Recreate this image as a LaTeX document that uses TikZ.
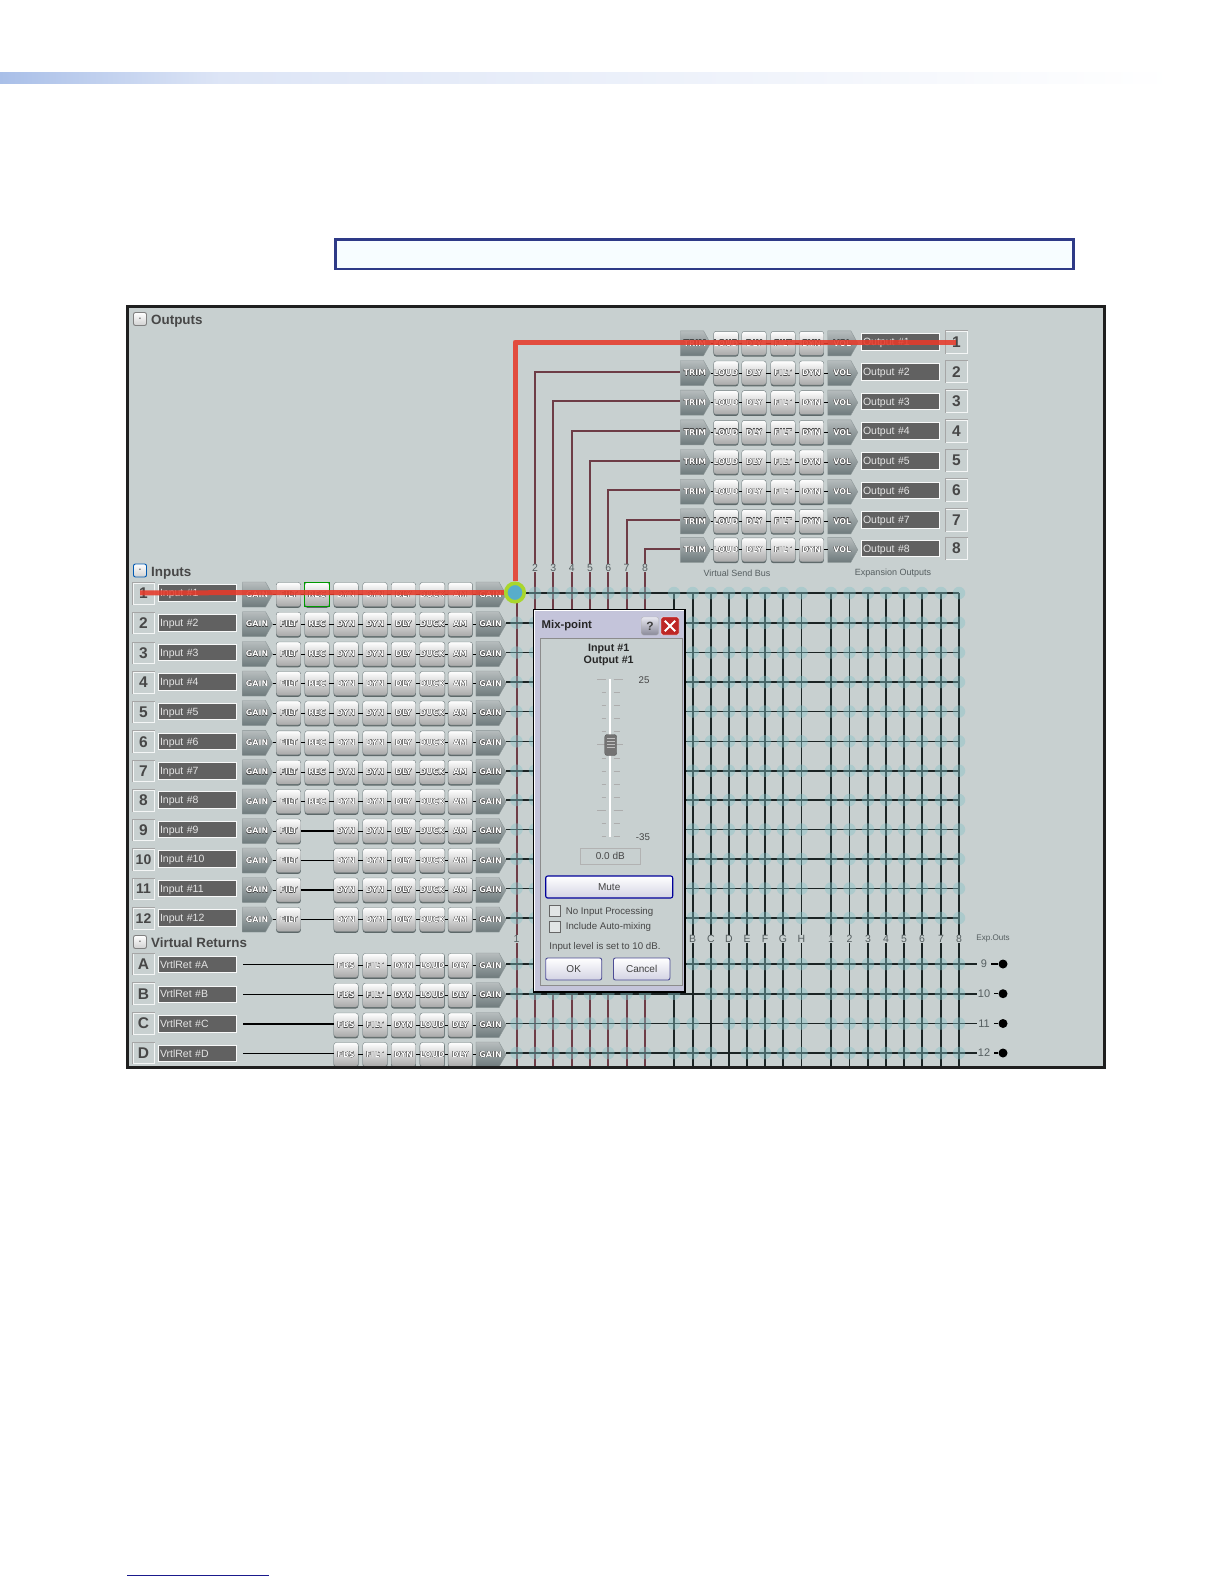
\documentclass[tikz,border=0pt]{standalone}
\usepackage{fontspec}
\usepackage{contour}
\usetikzlibrary{shapes.symbols,shadows}
\setmainfont{Liberation Sans}
\newfontfamily\chipfont{DejaVu Sans}
\contourlength{0.26pt}
\contournumber{8}
\definecolor{panelbg}{HTML}{C8D0D0}
\definecolor{gridline}{HTML}{1B2424}
\definecolor{busline}{HTML}{6E3C46}
\definecolor{redpath}{HTML}{E63A2A}
\definecolor{labelgray}{HTML}{555E60}
\definecolor{chipedge}{HTML}{6E7A7C}
\definecolor{lavender}{HTML}{C4C4DA}
\definecolor{bandblue}{HTML}{A9BFE8}
\definecolor{bandpale}{HTML}{DDE5F6}
\definecolor{boxblue}{HTML}{2E3A87}
\definecolor{mixblue}{HTML}{58ADCB}
\definecolor{mixlime}{HTML}{A9D62C}
\definecolor{xpointteal}{HTML}{86C2C8}
\definecolor{ruleblue}{HTML}{1A1A8C}
\newcommand{\chiplabel}[1]{\contour{black!72}{#1}}
\newcommand{\pentlabel}[1]{\makebox[23pt]{\hspace{6pt}\contour{black!72}{#1}}}
\newcommand{\numframe}[1]{\draw [edgedark] (#1.south west)--(#1.north west)--(#1.north east);}
\tikzset{
  chip/.style={rectangle, rounded corners=2.5pt, draw=chipedge, top color=white, middle color=white!84!black,
    bottom color=white!66!black, minimum width=24.5pt, minimum height=24pt, inner sep=0pt,
    font=\chipfont\fontsize{8}{9}\selectfont\bfseries, text=white,
    drop shadow={shadow xshift=0pt, shadow yshift=-1.3pt, opacity=1, fill=chipedge!85!black}},
  pent/.style={shape=signal, signal to=east, signal pointer angle=122, draw=chipedge!80,
    top color=white!50!chipedge, bottom color=chipedge, minimum width=30pt, minimum height=25pt, inner sep=0pt,
    font=\chipfont\fontsize{8}{9}\selectfont\bfseries, text=white},
  namebox/.style={rectangle, fill=black!62, draw=white!88!panelbg, line width=0.9pt, text width=74pt, minimum height=16.5pt,
    text height=7.5pt, text depth=0pt, inner xsep=2pt, inner ysep=0pt, align=left, text=white!90!black, font=\fontsize{10.5}{12}\selectfont},
  numbox/.style={rectangle, draw=white!80!panelbg, line width=1pt, minimum size=21pt, inner sep=0pt,
    text=black!72, font=\fontsize{15.5}{17}\selectfont\bfseries},
  edgedark/.style={line width=1pt, black!35},
  heading/.style={text=black!72, inner sep=0pt, font=\fontsize{13.4}{15}\selectfont\bfseries},
  foldbtn/.style={rectangle, rounded corners=2pt, draw=black!50, line width=0.9pt, top color=white, bottom color=black!18,
    minimum size=13pt, inner sep=0pt, text=black!70, font=\fontsize{7}{8}\selectfont\bfseries},
  collabel/.style={fill=panelbg, inner xsep=0.6pt, inner ysep=0.6pt, text=labelgray, font=\fontsize{10.5}{12}\selectfont},
  smalltxt/.style={inner sep=0pt, text=labelgray, font=\fontsize{9}{11}\selectfont},
  gridrun/.style={line width=1.6pt, gridline},
  busrun/.style={line width=2pt, busline},
  tie/.style={line width=1pt, black},
  xpoint/.style={circle, fill=xpointteal, fill opacity=0.42, minimum size=12.5pt, inner sep=0pt},
  redrun/.style={line width=5pt, redpath, opacity=0.88},
  dlgtxt/.style={inner sep=0pt, text=black!72, font=\fontsize{9.7}{11}\selectfont},
  dlgbtn/.style={rectangle, rounded corners=2pt, draw=black!60!blue!70, line width=0.9pt, top color=white, bottom color=lavender!75,
    minimum height=22pt, inner sep=0pt, text=black!75, font=\fontsize{10}{12}\selectfont},
  checkbx/.style={rectangle, draw=black!60, line width=0.8pt, fill=white!45!panelbg, minimum size=11pt, inner sep=0pt}
}
\begin{document}
\begin{tikzpicture}[x=1pt,y=-1pt]
    \useasboundingbox (0,0) rectangle (1224,1584);

    % 1. Page furniture
    \shade [left color=bandblue, right color=bandpale] (0,73) rectangle (220,84);
    \shade [left color=bandpale, right color=white] (220,73) rectangle (1175,84);
    \draw [line width = 2.6pt, boxblue, fill=white!97!cyan] (335.3,239.3) rectangle (1073.7,269);
    \draw [line width = 1pt, ruleblue] (127,1575)--(269,1575);

    \fill [panelbg] (127,306) rectangle (1104,1067);

    % 2. Grid lines ends and the two sets of columns
    \foreach \i/\y in {1/593,2/622.7,3/652.5,4/682,5/711.5,6/741.3,7/770.7,8/800,9/829.5,10/859,11/888.5,12/918} {
      \coordinate (inend\i) at (959,\y);
    }
    \foreach \i/\y in {A/964,B/993.7,C/1023.5,D/1053} {
      \coordinate (retend\i) at (977,\y);
    }
    \foreach \j/\x/\y in {1/516.5/593,2/535/371.7,3/553.3/401.3,4/571.7/431,5/590/460.7,6/608.3/490.4,7/626.5/520,8/645/548.5} {
      \coordinate (bustop\j) at (\x,\y);
      \coordinate (busend\j) at (\x,1067);
    }
    \foreach \j/\x in {2/535,3/553.3,4/571.7,5/590,6/608.3,7/626.5,8/645} {
      \coordinate (wire\j) at (680,0);
      \draw [busrun] (wire\j |- bustop\j)--(bustop\j)--(busend\j);
      \node (buslabel\j) [collabel] at (\x,568) {\j};
    }
    \draw [busrun] (bustop1)--(busend1);
    \node (buslabel1) [collabel] at (516.5,939) {1};
    \foreach \j/\x in {A/674,B/692.7,C/711,D/729,E/747,F/765,G/783,H/801.5,1/831,2/849.5,3/868,4/886,5/904,6/922,7/941,8/959} {
      \coordinate (exptop\j) at (\x,593);
      \coordinate (expend\j) at (\x,1067);
      \draw [gridrun] (exptop\j)--(expend\j);
    }
    \foreach \j/\x in {B/692.7,C/711,D/729,E/747,F/765,G/783,H/801.5,1/831,2/849.5,3/868,4/886,5/904,6/922,7/941,8/959} {
      \node (explabel\j) [collabel] at (\x,939) {\j};
    }

    % 3. Output rows
    \foreach \i/\y in {1/342,2/371.7,3/401.3,4/431,5/460.7,6/490.4,7/520,8/548.5} {
      \foreach \k/\x/\t/\s/\m in {1/692/TRIM/pent/\pentlabel,2/726/LOUD/chip/\chiplabel,3/754/DLY/chip/\chiplabel,4/783/FILT/chip/\chiplabel,5/811.5/DYN/chip/\chiplabel,6/839.3/VOL/pent/\pentlabel} {
        \node (out\i c\k) [\s] at (\x,\y+1.3) {\m{\t}};
      }
      \foreach \k [remember=\k as \p (initially 1)] in {2,...,6} {
        \draw [tie] (out\i c\p.east)--(out\i c\k.west);
      }
      \node (outname\i) [namebox] at (900,\y) {Output \#\i};
      \node (outnum\i) [numbox, minimum size=22pt] at (956.5,\y) {\i};
      \numframe{outnum\i}
    }
    \node (sendlabel) [smalltxt] at (737,573) {Virtual Send Bus};
    \node (explabel) [smalltxt] at (893,573) {Expansion Outputs};

    % 4. Input rows
    \foreach \i/\y in {1/593,2/622.7,3/652.5,4/682,5/711.5,6/741.3,7/770.7,8/800,9/829.5,10/859,11/888.5,12/918} {
      \node (innum\i) [numbox] at (143.5,\y+0.5) {\ifnum\i>9 \fontsize{14}{15}\selectfont\fi\i};
      \numframe{innum\i}
      \node (inname\i) [namebox] at (197,\y) {Input \#\i};
      \foreach \k/\x/\t/\s/\m in {1/254/GAIN/pent/\pentlabel,2/288.5/FILT/chip/\chiplabel,4/346/DYN/chip/\chiplabel,5/375/DYN/chip/\chiplabel,6/403.5/DLY/chip/\chiplabel,7/432.3/DUCK/chip/\chiplabel,8/460.3/AM/chip/\chiplabel,9/487.5/GAIN/pent/\pentlabel} {
        \node (in\i c\k) [\s] at (\x,\y+1.5) {\m{\t}};
      }
      \draw [tie] (in\i c1.east)--(in\i c2.west);
      \foreach \k [remember=\k as \p (initially 4)] in {5,...,9} {
        \draw [tie] (in\i c\p.east)--(in\i c\k.west);
      }
      \draw [gridrun] (in\i c9.east |- inend\i)--(inend\i);
    }
    \foreach \i/\y in {1/593,2/622.7,3/652.5,4/682,5/711.5,6/741.3,7/770.7,8/800} {
      \node (in\i c3) [chip] at (317,\y+1.5) {\chiplabel{REC}};
      \draw [tie] (in\i c2.east)--(in\i c3.west);
      \draw [tie] (in\i c3.east)--(in\i c4.west);
    }
    \foreach \i in {9,10,11,12} {
      \draw [line width=1.4pt, black] (in\i c2.east)--(in\i c4.west);
    }
    \draw [line width = 1pt, green!60!black] (in1c3.south west) rectangle (in1c3.north east);

    % 5. Virtual return rows
    \foreach \i/\y/\n in {A/964/9,B/993.7/10,C/1023.5/11,D/1053/12} {
      \node (retnum\i) [numbox] at (143.5,\y) {\i};
      \numframe{retnum\i}
      \node (retname\i) [namebox] at (197,\y+0.5) {VrtlRet \#\i};
      \foreach \k/\x/\t/\s/\m in {1/346/FBS/chip/\chiplabel,2/375/FILT/chip/\chiplabel,3/403.5/DYN/chip/\chiplabel,4/432.3/LOUD/chip/\chiplabel,5/460.3/DLY/chip/\chiplabel,6/487.5/GAIN/pent/\pentlabel} {
        \node (ret\i c\k) [\s] at (\x,\y+1.5) {\m{\t}};
      }
      \foreach \k [remember=\k as \p (initially 1)] in {2,...,6} {
        \draw [tie] (ret\i c\p.east)--(ret\i c\k.west);
      }
      \draw [line width=1.4pt, black] ([xshift=7pt]retname\i.east)--(ret\i c1.west |- retname\i);
      \draw [gridrun] (ret\i c6.east |- retend\i)--(retend\i);
      \node (expnum\i) [inner sep=0pt, text=labelgray, font=\fontsize{11}{12}\selectfont] at (984,\y) {\n};
      \node (expdot\i) [circle, fill=black, minimum size=9pt, inner sep=0pt] at (1003,\y) {};
      \draw [line width=1.4pt, black] ([xshift=4pt]expnum\i.east)--(expdot\i);
    }
    \node (expouts) [smalltxt, font=\fontsize{8.1}{10}\selectfont] at (993,939) {Exp.Outs};

    % 6. Crosspoints over the grid
    \foreach \y in {593,622.7,652.5,682,711.5,741.3,770.7,800,829.5,859,888.5,918,964,993.7,1023.5,1053} {
      \foreach \x in {516.5,535,553.3,571.7,590,608.3,626.5,645,674,692.7,711,729,747,765,783,801.5,831,849.5,868,886,904,922,941,959} {
        \pgfmathsetmacro\skipit{(\y==993.7&&\x==692.7)||(\y==1023.5&&\x==711)||(\y==1053&&\x==729)}
        \ifdim\skipit pt=0pt
          \node (xp\x-\y) [xpoint] at (\x,\y) {};
        \fi
      }
    }

    % 7. Headings
    \node (outfold) [foldbtn] at (140,319) {-};
    \node (outhead) [heading, anchor=west] at (151,321.5) {Outputs};
    \node (infold) [foldbtn, draw=blue!50!cyan!70!black] at (140,570.5) {-};
    \node (inhead) [heading, anchor=west] at (151,573) {Inputs};
    \node (retfold) [foldbtn] at (140,942) {-};
    \node (rethead) [heading, anchor=west] at (151,942.5) {Virtual Returns};

    % 8. Panel frame
    \draw [line width = 3pt, black!88] (127,306) rectangle (1104,1067);

    % 9. Mix-point dialog
    \node (dlgframe) [rectangle, draw=black, line width=1.6pt, fill=lavender, minimum width=151pt, minimum height=382pt, inner sep=0pt] at (609.5,801) {};
    \draw [white, line width=1pt] (dlgframe.south west)++(1.5,-1.5) |- ([xshift=-1.5pt,yshift=-1.5pt]dlgframe.north east);
    \node (dlgbody) [rectangle, draw=black!45, line width=1pt, fill=panelbg, minimum width=142pt, minimum height=347pt, inner sep=0pt] at (611,811.5) {};
    \node (dlgtitle) [inner sep=0pt, anchor=west, text=black!85, font=\fontsize{11.3}{13}\selectfont\bfseries] at (541.5,626) {Mix-point};
    \node (dlghelp) [rectangle, rounded corners=2pt, draw=black!30, top color=lavender!40, bottom color=lavender!70!black, minimum width=17pt, minimum height=18pt, inner sep=0pt, text=black!75, font=\fontsize{12}{13}\selectfont\bfseries] at (650,626) {?};
    \node (dlgclose) [rectangle, rounded corners=2pt, draw=white, fill=red!70!black!85!white, minimum width=18pt, minimum height=18pt, inner sep=0pt] at (670,626) {};
    \draw [white, line width=1.8pt] ([shift={(4,-4)}]dlgclose.south west)--([shift={(-4,4)}]dlgclose.north east);
    \draw [white, line width=1.8pt] ([shift={(4,4)}]dlgclose.north west)--([shift={(-4,-4)}]dlgclose.south east);
    \node (dlginput) [inner sep=0pt, text=black!85, font=\fontsize{10.7}{12}\selectfont\bfseries] at (608.7,649) {Input \#1};
    \node (dlgoutput) [inner sep=0pt, text=black!85, font=\fontsize{10.7}{12}\selectfont\bfseries] at (608.7,660.5) {Output \#1};

    % fader scale
    \foreach \k in {0,...,12} {
      \pgfmathsetmacro\ty{679+13.15*\k}
      \draw [black!32, line width=0.8pt] (601.5,\ty)--(606,\ty);
      \draw [black!32, line width=0.8pt] (613.5,\ty)--(620,\ty);
    }
    \foreach \k in {0,5,10} {
      \pgfmathsetmacro\ty{679+13.15*\k}
      \draw [black!32, line width=0.8pt] (597.3,\ty)--(606,\ty);
      \draw [black!32, line width=0.8pt] (613.5,\ty)--(622.7,\ty);
    }
    \coordinate (fadertop) at (609.7,679);
    \coordinate (faderend) at (609.7,837);
    \draw [white, line width = 1.6pt] (fadertop)--(faderend);
    \node (thumb) [rectangle, rounded corners=2.5pt, draw=black!65, fill=black!55, minimum width=12pt, minimum height=21pt, inner sep=0pt] at (610.7,745) {};
    \foreach \ty in {738,741,744,747} {
      \draw [white!75!black, line width=0.8pt] (606.5,\ty)--(615,\ty);
    }
    \node (faderhi) [dlgtxt] at (644,680) {25};
    \node (faderlo) [dlgtxt] at (643,837) {-35};
    \node (dbbox) [rectangle, draw=black!30, line width=0.8pt, minimum width=60pt, minimum height=16pt, inner sep=0pt, text=black!72, font=\fontsize{10}{12}\selectfont] at (610.3,856) {0.0 dB};
    \node (mutebtn) [dlgbtn, minimum width=127pt, draw=blue!60!black, line width=1.1pt] at (609.2,887) {Mute};
    \node (chkinput) [checkbx] at (554.5,911.2) {};
    \node (chkinputlbl) [dlgtxt, anchor=west] at (565.7,911.7) {No Input Processing};
    \node (chkauto) [checkbx] at (554.5,927.2) {};
    \node (chkautolbl) [dlgtxt, anchor=west] at (565.7,927.2) {Include Auto-mixing};
    \node (levelnote) [dlgtxt] at (605,946.7) {Input level is set to 10 dB.};
    \node (okbtn) [dlgbtn, minimum width=56pt] at (573.7,969) {OK};
    \node (cancelbtn) [dlgbtn, minimum width=56.5pt] at (641.7,969) {Cancel};

    % 10. Highlighted route on top
    \coordinate (redstart) at (140,592.8);
    \coordinate (redcorner) at (515,342);
    \coordinate (redend) at (956,342);
    \node (mixpoint) [circle, fill=mixblue, draw=mixlime, line width=3.6pt, minimum size=18.5pt, inner sep=0pt] at (515,592.5) {};
    \draw [redrun] (redstart)--(mixpoint.west);
    \draw [redrun, line join=round] (mixpoint.north)--(redcorner)--(redend);

\end{tikzpicture}
\end{document}
